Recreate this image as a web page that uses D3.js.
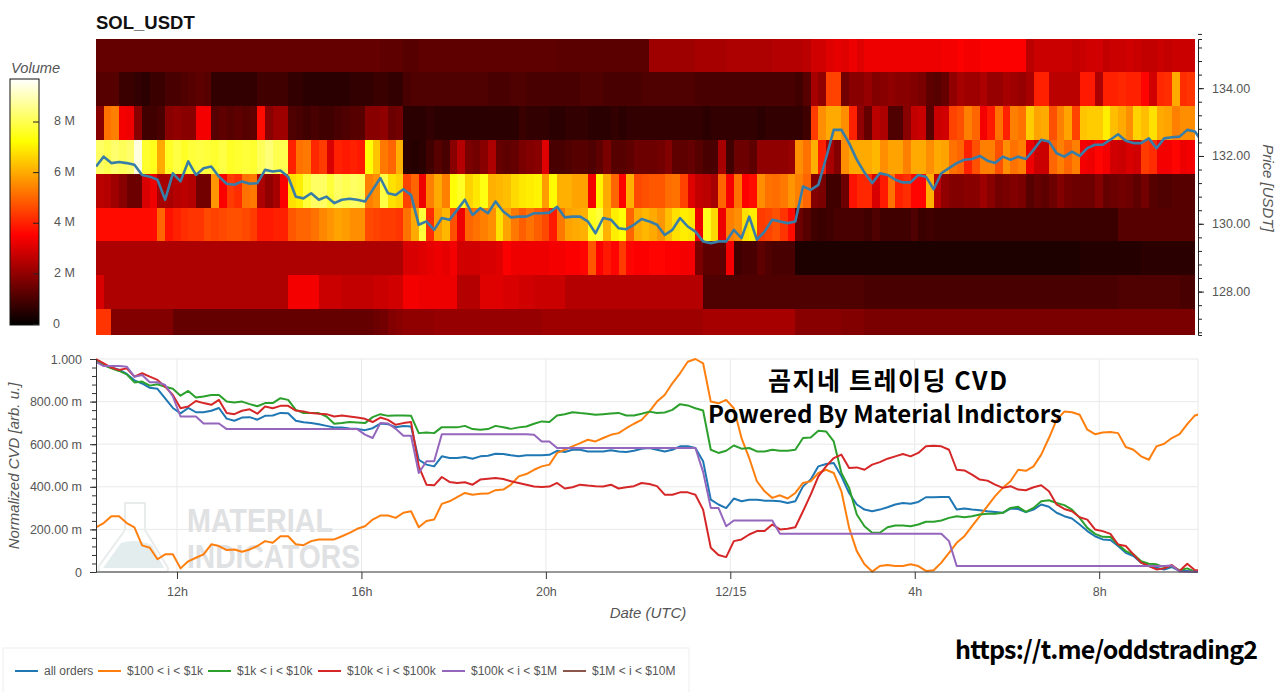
<!DOCTYPE html>
<html><head><meta charset="utf-8">
<script src="https://cdn.jsdelivr.net/npm/d3@7"></script>
<style>
html,body{margin:0;padding:0;background:#fff;overflow:hidden}
text{font-family:"Liberation Sans",Arial,sans-serif}
</style></head><body><svg id="c" width="1280" height="692"></svg>
<script>
const title="SOL_USDT";
const priceLevels=[134.98,133.98,132.98,131.98,130.98,129.98,128.98,127.98,126.98];
const vol135=[1.4,1.4,1.4,1.4,1.4,1.4,1.4,1.4,1.4,1.4,
1.4,1.4,1.4,1.4,1.4,1.4,1.4,1.4,1.4,1.4,
1.4,1.4,1.4,1.4,1.4,1.4,1.4,1.4,1.4,1.4,
1.4,1.4,1.4,1.4,1.4,1.4,1.4,1.3,1.3,1.3,
1.2,1.2,1.3,1.3,1.3,1.3,1.3,1.3,1.3,1.3,
1.3,1.3,1.3,1.3,1.3,1.3,1.3,1.3,1.3,1.3,
1.25,1.25,1.25,1.25,1.25,1.25,1.25,1.25,1.25,1.25,1.25,1.25,
2.2,2.2,2.2,2.2,2.2,2.2,2.3,2.3,2.3,2.3,2.4,2.4,2.4,2.4,2.4,
2.4,2.5,2.5,2.5,2.5,2.6,
2.9,2.9,3.1,3.2,3.1,3.3,3.1,
3.3,3.3,3.3,3.3,3.3,3.3,3.3,3.3,3.3,3.3,3.4,3.4,3.5,3.4,3.4,3.5,3.5,3.5,3.5,3.5,3.5,
2.6,2.8,2.8,2.8,2.8,2.8,2.7,2.8,2.9,2.9,2.7,2.8,2.8,2.9,2.8,2.7,2.7,2.8,2.7,2.8,2.8,2.8];
const vol134=[1.2,1.2,1.2,.8,.8,.7,.6,.8,.8,1.0,
1.0,1.1,1.2,1.3,1.2,.7,.7,.7,.7,.7,
.7,.9,.9,.9,.9,.7,.7,.6,.6,.6,
.6,.6,.6,.7,.7,.7,.8,.8,.7,.7,
1.0,1.1,1.1,1.1,1.1,1.1,1.1,1.1,1.1,1.1,
1.1,1.0,1.0,1.0,1.1,1.1,1.0,1.0,1.0,1.0,
1.0,1.0,1.0,1.1,1.1,1.1,1.0,1.0,1.0,1.0,
1.0,1.1,1.1,1.1,1.1,1.1,1.1,1.1,1.0,1.0,
1.0,1.0,1.0,1.0,1.0,1.0,1.0,1.0,1.0,1.0,
1.0,.9,1.2,2.3,2.0,4.5,4.5,1.6,1.9,1.9,
2.1,1.8,1.9,2.0,1.9,1.9,1.8,1.7,1.3,1.2,1.4,2.0,2.3,2.2,2.2,2.4,2.1,2.1,2.3,2.2,2.1,
2.3,4.0,4.0,2.6,2.6,2.6,2.6,3.9,3.9,2.4,4.0,4.0,4.1,4.0,4.0,3.6,2.9,4.1,4.2,6.0,4.2,4.3];
const vol133=[1.9,5.2,5.4,3.4,3.3,1.9,.9,.9,1.0,1.9,
2.0,1.9,1.9,3.4,3.4,1.2,1.3,1.2,1.3,1.2,
1.3,3.7,1.9,2.2,2.2,1.1,1.0,.9,1.0,.9,
.9,1.0,1.1,1.2,1.2,1.9,1.9,2.0,1.5,1.6,
.6,.6,.6,.7,.6,.6,.6,.6,.6,.6,
.6,.6,.6,.6,.6,.8,.7,.7,.7,.6,
.6,.7,.7,.7,.6,.6,.6,.7,.6,.7,
.7,.7,.7,.7,.7,.7,.7,.7,.7,.6,
.7,.7,.7,.7,.7,.7,.6,.7,.7,.7,
.7,.7,.9,4.4,5.6,6.0,6.0,5.6,4.0,2.0,
1.4,2.6,2.4,1.1,1.1,1.9,2.7,2.8,1.2,2.8,2.9,4.5,4.7,5.4,5.0,3.4,3.9,5.2,4.0,5.4,5.2,
6.5,5.9,6.0,4.7,5.4,5.9,4.5,6.4,6.5,6.5,7.0,6.3,6.0,5.6,6.6,6.3,6.8,6.0,5.9,5.4,5.6,5.6];
const vol132=[8.2,8.0,8.3,8.1,8.3,9.4,7.7,7.5,6.0,7.6,
7.9,7.6,7.8,7.9,7.8,7.7,7.9,7.6,7.7,7.8,
7.7,8.1,8.4,8.0,8.0,4.0,5.2,5.3,4.1,4.4,
3.0,4.0,3.9,4.0,3.9,7.3,6.4,5.3,5.0,6.1,
.6,.5,.6,.9,1.2,1.0,1.9,2.5,1.7,1.6,
1.9,2.4,1.4,1.3,1.4,1.7,1.8,1.9,3.1,1.0,
1.0,1.1,1.2,1.2,1.1,1.3,1.7,1.2,1.2,1.3,
1.5,1.5,1.5,1.6,1.8,1.3,1.3,1.4,1.2,1.0,
1.0,2.3,.9,1.5,1.5,1.3,2.0,2.0,2.0,2.0,
2.1,5.6,5.2,6.1,4.0,2.3,1.8,5.6,6.0,6.0,
6.0,6.2,5.6,5.9,5.9,5.4,6.0,6.0,5.6,6.0,5.9,5.2,5.0,4.0,4.7,5.4,5.4,4.7,5.6,5.2,5.4,
3.3,2.8,2.8,5.0,5.4,5.0,5.4,3.4,3.3,3.6,3.4,2.9,2.8,3.0,2.9,4.4,4.2,3.4,3.4,3.6,3.3,3.4];
const vol131=[2.6,2.5,2.2,1.9,1.5,1.5,3.0,3.3,2.3,2.3,
2.5,2.6,2.5,1.6,1.6,5.7,3.5,4.4,4.2,5.2,
5.3,2.4,2.0,2.3,3.5,6.8,7.0,7.8,8.2,8.2,
7.8,8.2,8.0,8.2,8.1,5.4,5.6,7.9,6.8,6.6,
4.5,5.0,3.3,5.4,6.0,5.4,7.3,7.6,6.6,6.9,
7.4,6.1,6.2,6.3,6.7,6.9,7.0,7.1,5.8,7.2,
6.1,6.1,5.9,5.9,3.4,7.1,6.0,5.0,3.5,6.1,
4.6,4.7,4.8,4.8,5.1,5.2,4.5,3.1,2.7,2.6,
2.3,5.0,3.4,5.2,3.5,3.7,5.6,5.2,5.1,5.3,
5.7,5.4,5.0,1.8,1.7,.9,.9,1.5,3.8,4.1,
4.1,3.0,3.9,5.2,4.0,4.2,3.6,3.6,6.1,2.6,2.0,1.8,1.8,1.9,1.9,2.2,1.9,1.6,1.7,1.8,1.7,
1.2,1.4,1.3,1.5,1.8,1.6,1.5,1.5,1.5,1.8,1.4,1.5,1.6,1.5,1.3,1.6,1.2,1.1,1.1,1.2,1.2,1.2];
const vol130=[3.7,3.7,3.7,3.7,3.7,3.7,3.7,3.7,5.0,3.8,
4.0,4.2,4.3,4.3,4.6,4.5,4.6,4.7,4.7,4.6,
4.4,3.9,3.9,4.0,4.0,4.8,5.0,5.0,5.2,5.5,
5.7,5.9,5.8,5.6,5.6,4.6,4.5,4.4,4.4,4.3,
5.2,6.0,7.8,4.2,5.8,6.2,4.7,3.3,5.0,5.2,
5.4,5.6,6.8,5.9,5.3,4.9,5.2,4.9,4.6,3.9,
5.3,5.9,6.0,6.1,7.5,7.8,6.1,7.0,7.3,5.0,
6.0,6.2,6.0,5.7,6.3,6.8,7.0,6.9,3.3,7.5,
6.7,3.3,5.4,5.6,6.8,7.0,4.4,4.5,4.7,4.3,
3.7,1.5,1.2,.9,.8,.9,1.0,1.0,1.0,1.0,
.9,1.1,.9,.9,.9,.9,1.1,.8,.9,.8,.8,.8,.8,.8,.8,.8,.8,.8,.8,.8,.8,
.8,.8,.8,.8,.8,.8,.8,.8,.8,.8,.8,.8,1.2,1.2,1.2,1.2,1.2,1.2,1.2,1.2,1.2,1.2];
const vol129=[2.4,2.4,2.4,2.4,2.4,2.4,2.4,2.4,2.4,2.4,
2.4,2.4,2.4,2.4,2.4,2.4,2.4,2.4,2.4,2.4,
2.4,2.4,2.4,2.4,2.4,2.4,2.4,2.4,2.4,2.4,
2.4,2.4,2.4,2.4,2.4,2.4,2.4,2.4,2.4,2.4,
3.0,3.0,3.1,3.2,3.3,3.2,3.4,2.9,2.9,2.9,
3.0,3.0,3.1,3.5,3.3,3.3,3.3,3.3,3.3,3.4,
3.4,3.5,3.5,3.6,4.8,3.5,3.9,3.6,4.4,3.6,
3.5,3.5,3.6,3.6,3.5,3.5,3.4,3.4,1.7,1.3,
1.3,1.3,3.4,.9,1.0,1.0,1.3,1.1,1.0,1.0,
1.0,.4,.4,.4,.4,.4,.4,.4,.4,.4,
.4,.4,.4,.4,.4,.4,.4,.4,.4,.4,.4,.4,.4,.4,.4,.4,.4,.4,.4,.4,.4,
.4,.4,.4,.4,.4,.4,.4,.5,.5,.5,.5,.5,.5,.5,.5,.6,.6,.6,.6,.6,.6,.6];
const vol128=[3.0,2.4,2.4,2.4,2.4,2.4,2.4,2.4,2.4,2.4,
2.4,2.4,2.4,2.4,2.4,2.4,2.4,2.4,2.4,2.4,
2.4,2.4,2.4,2.4,2.4,3.4,3.4,3.4,3.4,2.8,
2.8,2.8,2.7,2.7,2.7,2.7,2.8,2.8,2.9,2.9,
3.4,3.4,3.3,3.3,3.3,3.3,3.3,2.5,2.5,2.5,
3.1,3.1,3.1,3.0,3.0,2.9,2.9,2.8,2.8,2.8,
2.8,2.5,2.5,2.5,2.5,2.5,2.5,2.5,2.5,2.5,
2.5,2.5,2.5,2.5,2.5,2.5,2.5,2.5,2.5,1.1,
1.1,1.1,1.1,1.1,1.1,1.1,1.1,1.1,1.1,1.1,
1.1,1.1,1.1,1.1,1.1,1.1,1.1,1.1,1.1,1.1,
1.0,1.0,1.0,1.0,1.0,1.0,1.0,1.0,1.0,1.0,1.0,1.0,1.0,1.0,1.0,1.0,1.0,1.0,1.0,1.0,1.0,
1.0,1.0,1.0,1.0,1.0,1.0,1.0,1.0,1.0,1.0,1.0,1.0,1.1,1.1,1.1,1.1,1.1,1.1,1.1,1.1,1.0,1.0];
const vol127=[4.3,4.3,1.8,1.8,1.8,1.8,1.8,1.8,1.8,1.8,
1.4,1.4,1.4,1.4,1.4,1.4,1.4,1.4,1.4,1.4,
1.4,1.4,1.4,1.4,1.4,1.4,1.4,1.4,1.4,1.4,
1.4,1.4,1.4,1.4,1.4,1.4,1.5,1.6,1.8,1.9,
2.0,2.0,2.0,2.0,2.1,2.1,2.1,2.1,2.1,2.1,
2.1,2.1,2.1,2.1,2.1,2.1,2.1,2.1,2.2,2.2,
2.2,2.2,2.2,2.2,2.2,2.2,2.2,2.2,2.2,2.2,
2.2,2.2,2.2,2.2,2.2,2.2,2.2,2.2,2.2,2.3,
2.3,2.3,2.3,2.3,2.3,2.3,2.3,2.3,2.3,2.3,
2.3,1.9,1.9,1.9,1.9,1.9,1.9,1.8,1.8,1.8,
1.7,1.7,1.7,1.7,1.7,1.7,1.7,1.7,1.7,1.7,1.7,1.7,1.7,1.7,1.7,1.7,1.7,1.7,1.7,1.7,1.7,
1.7,1.7,1.7,1.7,1.7,1.7,1.7,1.7,1.7,1.7,1.7,1.7,1.7,1.7,1.7,1.7,1.7,1.7,1.7,1.7,1.7,1.7];
const volumeRows=[vol135,vol134,vol133,vol132,vol131,vol130,vol129,vol128,vol127];
const price=[131.69,131.98,131.79,131.82,131.79,131.74,131.44,131.39,131.30,130.71,
131.49,131.25,131.84,131.44,131.64,131.69,131.39,131.18,131.15,131.25,
131.18,131.20,131.59,131.54,131.57,131.39,130.80,130.75,130.90,130.71,
130.80,130.61,130.71,130.74,130.71,130.66,131.0,131.35,130.90,130.85,
131.02,130.85,129.97,130.07,129.82,130.17,130.12,130.41,130.71,130.26,
130.46,130.31,130.66,130.36,130.19,130.21,130.21,130.31,130.31,130.33,
130.5,130.19,130.21,130.21,130.07,129.72,130.17,130.12,129.87,129.84,
129.97,130.14,130.07,129.97,129.67,129.82,130.17,129.92,129.77,129.48,
129.43,129.48,129.48,129.82,129.58,130.21,129.53,129.77,130.12,130.07,
130.02,130.07,131.10,131.00,131.15,131.94,132.77,132.77,132.38,131.89,
131.51,131.2,131.49,131.44,131.30,131.22,131.22,131.44,131.39,131.02,
131.49,131.64,131.79,131.89,131.91,132.0,131.86,131.79,131.98,131.89,
131.98,131.91,132.18,132.48,132.43,132.08,131.98,132.13,132.0,132.23,
132.33,132.33,132.48,132.64,132.45,132.38,132.38,132.52,132.23,132.52,
132.55,132.57,132.77,132.72,132.4];
const cvdAll=[.995,.97,.96,.95,.93,.90,.885,.865,.86,.815,
.77,.745,.77,.75,.75,.757,.77,.72,.71,.725,
.727,.715,.733,.735,.747,.745,.71,.703,.70,.694,
.686,.678,.678,.674,.672,.666,.675,.697,.694,.68,
.685,.683,.527,.504,.496,.543,.535,.535,.54,.532,
.543,.546,.555,.554,.548,.543,.548,.548,.548,.55,
.569,.563,.574,.574,.566,.566,.566,.572,.566,.563,
.569,.579,.582,.574,.566,.574,.59,.59,.582,.52,
.34,.317,.30,.345,.332,.339,.339,.335,.335,.332,
.324,.332,.402,.434,.496,.507,.512,.449,.371,.317,
.293,.285,.293,.304,.317,.324,.32,.329,.351,.351,
.352,.352,.293,.298,.293,.29,.285,.282,.278,.298,
.296,.281,.293,.317,.306,.278,.262,.251,.223,.192,
.168,.153,.15,.122,.09,.075,.044,.028,.02,.012,
.023,.005,.005,.002,.002];
const cvd100=[.21,.23,.262,.262,.23,.21,.125,.114,.06,.083,
.083,.017,.05,.067,.083,.13,.122,.103,.106,.095,
.106,.122,.145,.137,.168,.168,.13,.126,.145,.153,
.153,.153,.168,.184,.203,.215,.246,.265,.265,.254,
.278,.285,.21,.239,.246,.32,.332,.351,.371,.363,
.367,.368,.384,.387,.41,.449,.46,.48,.496,.504,
.559,.574,.59,.605,.621,.613,.629,.644,.652,.675,
.696,.714,.753,.80,.831,.886,.933,.987,1.0,.98,
.80,.792,.808,.769,.629,.535,.426,.379,.348,.36,
.345,.371,.418,.426,.465,.48,.465,.379,.207,.098,
.036,.002,.028,.033,.028,.028,.036,.028,.005,.008,
.044,.09,.137,.168,.215,.262,.309,.356,.395,.426,
.48,.475,.496,.551,.629,.714,.753,.75,.738,.668,
.647,.655,.657,.652,.587,.574,.543,.527,.59,.602,
.629,.647,.694,.735,.745];
const cvd1k=[.995,.972,.956,.944,.928,.89,.894,.875,.881,.87,
.86,.828,.85,.819,.824,.831,.831,.80,.796,.80,
.788,.778,.793,.793,.816,.808,.761,.746,.746,.746,
.73,.696,.699,.704,.702,.699,.727,.741,.733,.735,
.735,.733,.652,.655,.652,.68,.68,.679,.686,.671,
.668,.671,.686,.68,.672,.679,.683,.696,.707,.704,
.735,.741,.75,.746,.743,.738,.741,.744,.747,.735,
.735,.743,.753,.746,.749,.761,.788,.782,.769,.758,
.574,.559,.569,.594,.579,.582,.566,.566,.574,.569,
.569,.574,.629,.632,.663,.66,.613,.465,.395,.27,
.215,.184,.184,.21,.218,.218,.215,.223,.236,.236,
.242,.254,.262,.257,.262,.27,.273,.273,.278,.301,
.306,.282,.301,.332,.337,.324,.314,.293,.254,.207,
.179,.165,.164,.129,.098,.083,.051,.039,.036,.023,
.028,.008,.017,.002,.002];
const cvd10k=[1.0,.98,.96,.948,.956,.917,.933,.917,.902,.87,
.831,.769,.777,.803,.793,.785,.808,.746,.741,.757,
.764,.743,.777,.769,.78,.78,.758,.754,.746,.743,
.741,.73,.735,.73,.725,.719,.704,.725,.714,.691,
.699,.704,.496,.41,.407,.446,.423,.418,.421,.41,
.434,.438,.441,.437,.426,.418,.41,.401,.399,.401,
.418,.392,.398,.41,.406,.403,.401,.41,.392,.398,
.403,.418,.413,.403,.363,.363,.374,.374,.363,.293,
.114,.08,.07,.145,.153,.176,.192,.192,.223,.2,
.203,.21,.285,.363,.449,.496,.535,.551,.488,.491,
.48,.504,.516,.532,.543,.554,.543,.559,.59,.593,
.59,.574,.48,.477,.457,.434,.429,.41,.395,.403,
.387,.384,.398,.407,.379,.317,.296,.285,.257,.246,
.2,.192,.179,.129,.122,.083,.044,.028,.012,.017,
.033,.005,.039,.008,.008];
const cvd100k=[.987,.967,.967,.967,.964,.917,.925,.891,.891,.878,
.824,.73,.73,.73,.697,.697,.697,.671,.671,.671,
.671,.671,.671,.671,.671,.671,.671,.671,.671,.671,
.671,.671,.671,.671,.671,.645,.629,.699,.697,.672,
.64,.64,.465,.52,.52,.647,.647,.647,.647,.647,
.647,.647,.647,.647,.647,.647,.647,.644,.613,.613,
.582,.582,.582,.582,.582,.582,.582,.582,.582,.582,
.582,.582,.582,.582,.582,.582,.582,.582,.582,.47,
.301,.301,.215,.242,.242,.242,.242,.242,.242,.18,
.18,.18,.18,.18,.18,.18,.18,.18,.18,.18,
.18,.18,.18,.18,.18,.18,.18,.18,.18,.18,
.18,.145,.028,.028,.028,.028,.028,.028,.028,.028,
.028,.028,.028,.028,.028,.028,.028,.028,.028,.028,
.028,.028,.028,.028,.028,.028,.028,.028,.028,.028,
.03,.002,.001,.001,.001];
const legendLabels=["all orders","$100 < i < $1k","$1k < i < $10k","$10k < i < $100k","$100k < i < $1M","$1M < i < $10M"];
const seriesColors=["#1f77b4","#ff7f0e","#2ca02c","#d62728","#9467bd","#8c564b"];
const cvdSeries=[cvdAll,cvd100,cvd1k,cvd10k,cvd100k];
const timeTicks=[Date.UTC(2021,11,14,12),Date.UTC(2021,11,14,16),Date.UTC(2021,11,14,20),Date.UTC(2021,11,15,0),Date.UTC(2021,11,15,4),Date.UTC(2021,11,15,8)];
const timeLabels=["12h","16h","20h","12/15","4h","8h"];
const cvdTicks=[0,.2,.4,.6,.8,1];
const priceTicks=[128,130,132,134];
const volTicks=[0,2,4,6,8];
const stepMs=600000, startMs=Date.UTC(2021,11,14,10,14,36), endMs=Date.UTC(2021,11,15,10,8,36);

const svg=d3.select("#c");
const grey="#555";
const x=d3.scaleUtc().domain([startMs,endMs]).range([96,1198]);
const colX=i=>x(startMs+i*stepMs);
const yPrice=d3.scaleLinear().domain([126.72,135.45]).range([335,39]);
const yCvd=d3.scaleLinear().domain([0,1]).range([572,359]);
const yVol=d3.scaleLinear().domain([0,9.7]).range([324.5,79]);
const hot=d3.scaleLinear().domain([0,3.54,7.24,9.7]).range(["#000","#f00","#ff0","#fff"]);

const defs=svg.append("defs");
defs.append("clipPath").attr("id","top").append("rect").attr("x",96).attr("y",39).attr("width",1102).attr("height",296);
defs.append("clipPath").attr("id","bot").append("rect").attr("x",96).attr("y",350).attr("width",1102).attr("height",230);
defs.append("filter").attr("id","soft").attr("filterUnits","userSpaceOnUse").attr("x",80).attr("y",20).attr("width",1140).attr("height",340)
  .attr("color-interpolation-filters","sRGB").append("feGaussianBlur").attr("stdDeviation",.55);
const grad=defs.append("linearGradient").attr("id","hot").attr("x1",0).attr("x2",0).attr("y1",1).attr("y2",0);
hot.domain().forEach(v=>grad.append("stop").attr("offset",v/9.7).attr("stop-color",hot(v)));

// title
svg.append("text").attr("x",96).attr("y",29).attr("font-size",18.5).attr("font-weight","bold").attr("fill","#111").text(title);

// heat map
const heatClip=svg.append("g").attr("clip-path","url(#top)");
const heat=heatClip.append("g").attr("filter","url(#soft)");
volumeRows.forEach((row,r)=>{
  const p=priceLevels[r];
  heat.selectAll(null).data(row).enter().append("rect")
    .attr("x",(d,i)=>colX(i)).attr("width",(d,i)=>colX(i+1)-colX(i))
    .attr("y",yPrice(p+.5)).attr("height",yPrice(p-.5)-yPrice(p+.5))
    .attr("shape-rendering","crispEdges")
    .attr("fill",d=>hot(d));
});
const lineP=d3.line().x((d,i)=>colX(i)).y(d=>yPrice(d)).curve(d3.curveLinear);
svg.append("path").attr("clip-path","url(#top)").datum(price).attr("d",lineP).attr("fill","none").attr("stroke","#387da8").attr("stroke-width",2.6).attr("stroke-linejoin","round");

// right axis
const minorP=[];for(let k=0;k<23;k++)minorP.push(126.8+k*.4);
const rMinor=svg.append("g").attr("transform","translate(1198,0)").call(d3.axisRight(yPrice).tickValues(minorP).tickSize(4).tickFormat(""));
rMinor.select(".domain").attr("stroke","#222");
rMinor.selectAll("line").attr("stroke","#222");
const rMajor=svg.append("g").attr("transform","translate(1198,0)").call(d3.axisRight(yPrice).tickValues(priceTicks).tickSize(6).tickPadding(8).tickFormat(d=>d.toFixed(2)));
rMajor.select(".domain").remove();
rMajor.selectAll("line").attr("stroke","#222");
rMajor.selectAll("text").attr("font-size",12.5).attr("fill",grey).style("font-family",'"Liberation Sans",Arial,sans-serif');
svg.append("text").attr("transform","translate(1263,188) rotate(90)").attr("text-anchor","middle").attr("font-size",15).attr("font-style","italic").attr("fill",grey).text("Price [USDT]");

// color bar
svg.append("text").attr("x",11).attr("y",73).attr("font-size",14.7).attr("font-style","italic").attr("fill",grey).text("Volume");
svg.append("rect").attr("x",10).attr("y",79).attr("width",29).attr("height",246).attr("fill","url(#hot)").attr("stroke","#111").attr("stroke-width",1);
const vAxis=svg.append("g").selectAll("g").data(volTicks).enter().append("g");
vAxis.append("line").attr("x1",33).attr("x2",39).attr("y1",d=>yVol(d)).attr("y2",d=>yVol(d)).attr("stroke","#222");
vAxis.append("text").attr("x",d=>d?54:53).attr("y",d=>yVol(d)+3).attr("font-size",12.5).attr("fill",grey).text(d=>d?d+" M":"0");

// lower plot: grid + outline
const gridG=svg.append("g").attr("stroke","#e9e9e9").attr("stroke-width",1);
cvdTicks.forEach(v=>{if(v)gridG.append("line").attr("x1",96).attr("x2",1198).attr("y1",yCvd(v)).attr("y2",yCvd(v));});
timeTicks.forEach(t=>gridG.append("line").attr("x1",x(t)).attr("x2",x(t)).attr("y1",359).attr("y2",572));
gridG.append("line").attr("x1",1198).attr("x2",1198).attr("y1",359).attr("y2",572);

// watermark
const wm=svg.append("g");
wm.append("path").attr("d","M125 503 L145 503 L145 530 L168 568 Q169 572 164 572 L102 572 Q97 572 99 566 L125 530 Z").attr("fill","none").attr("stroke","#e9ecec").attr("stroke-width",2);
wm.append("path").attr("d","M121 543 Q135 538 152 545 L164 568 L103 568 Z").attr("fill","#e3eded");
wm.append("text").attr("x",187).attr("y",532).attr("font-size",34).attr("font-weight","bold").attr("fill","#dfe1e3").attr("textLength",146).attr("lengthAdjust","spacingAndGlyphs").text("MATERIAL");
wm.append("text").attr("x",187).attr("y",568).attr("font-size",34).attr("font-weight","bold").attr("fill","#dfe1e3").attr("textLength",173).attr("lengthAdjust","spacingAndGlyphs").text("INDICATORS");

// lines
const lineC=d3.line().x((d,i)=>colX(i)).y(d=>yCvd(d));
const lg=svg.append("g").attr("clip-path","url(#bot)");
cvdSeries.forEach((s,k)=>lg.append("path").datum(s).attr("d",lineC).attr("fill","none").attr("stroke",seriesColors[k]).attr("stroke-width",2).attr("stroke-linejoin","round"));

// axes lower
const minorY=[];for(let k=0;k<=25;k++)minorY.push(k*.04);
const lMinor=svg.append("g").attr("transform","translate(96,0)").call(d3.axisLeft(yCvd).tickValues(minorY).tickSize(4).tickFormat(""));
lMinor.select(".domain").attr("stroke","#333");
lMinor.selectAll("line").attr("stroke","#333");
const fmtY=v=>v===0?"0":v===1?"1.000":(v*1000).toFixed(2)+" m";
const lMajor=svg.append("g").attr("transform","translate(96,0)").call(d3.axisLeft(yCvd).tickValues(cvdTicks).tickSize(6).tickPadding(8).tickFormat(fmtY));
lMajor.select(".domain").remove();
lMajor.selectAll("line").attr("stroke","#333");
lMajor.selectAll("text").attr("font-size",12.5).attr("fill",grey).style("font-family",'"Liberation Sans",Arial,sans-serif');
const bAxis=svg.append("g").attr("transform","translate(0,572)").call(d3.axisBottom(x).tickValues(timeTicks).tickSize(7).tickPadding(8).tickFormat((d,i)=>timeLabels[i]));
bAxis.select(".domain").attr("stroke","#333").attr("d","M96,0H1198");
bAxis.selectAll("line").attr("stroke","#333");
bAxis.selectAll("text").attr("font-size",12.5).attr("fill",grey).style("font-family",'"Liberation Sans",Arial,sans-serif');
svg.append("text").attr("transform","translate(19,466) rotate(-90)").attr("text-anchor","middle").attr("font-size",15).attr("font-style","italic").attr("fill",grey).text("Normalized CVD [arb. u.]");
svg.append("text").attr("x",648).attr("y",618).attr("text-anchor","middle").attr("font-size",15).attr("font-style","italic").attr("fill",grey).text("Date (UTC)");

// legend
svg.append("rect").attr("x",3).attr("y",648).attr("width",686).attr("height",50).attr("fill","#fff").attr("stroke","#eee");
const legX=[15,98,208,318,442,563];
legendLabels.forEach((l,k)=>{
  svg.append("line").attr("x1",legX[k]).attr("x2",legX[k]+23).attr("y1",671).attr("y2",671).attr("stroke",seriesColors[k]).attr("stroke-width",2);
  svg.append("text").attr("x",legX[k]+29).attr("y",675).attr("font-size",12).attr("fill",grey).text(l);
});

// overlay captions
const cjk='"Noto Sans CJK KR","Noto Sans",sans-serif';
const cap=(t,xx,yy,w,fs)=>svg.append("text").attr("x",xx).attr("y",yy).attr("font-size",fs).attr("font-weight",700).attr("fill","#000").attr("textLength",w).attr("lengthAdjust","spacing").style("font-family",cjk).text(t);
cap("곰지네 트레이딩 CVD",768,390,239,25);
cap("Powered By Material Indictors",708,423,354,24);
cap("https://t.me/oddstrading2",955,659,303,25);
</script></body></html>
